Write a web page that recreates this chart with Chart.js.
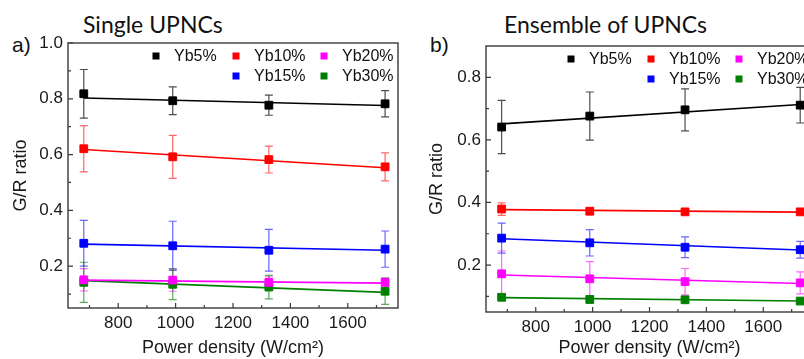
<!DOCTYPE html>
<html>
<head>
<meta charset="utf-8">
<script src="https://cdn.jsdelivr.net/npm/chart.js@4.4.0/dist/chart.umd.min.js"></script>
<style>
html,body{margin:0;padding:0;background:#fff;width:804px;height:359px;overflow:hidden;position:relative}
canvas{position:absolute;top:0}
#cSingle{left:0}
#cEns{left:420px}
.ttl{position:absolute;font-family:Lato,sans-serif;font-size:23px;line-height:1;color:#111;white-space:nowrap}
.lbl{position:absolute;font-family:"Liberation Sans",Arial,sans-serif;font-size:21px;line-height:1;color:#111}
</style>
</head>
<body>
<div class="lbl" style="left:12px;top:34px">a)</div>
<div class="ttl" style="left:83px;top:13px">Single UPNCs</div>
<div class="lbl" style="left:430px;top:34px">b)</div>
<div class="ttl" style="left:504px;top:13px">Ensemble of UPNCs</div>
<canvas id="cSingle" width="420" height="359"></canvas>
<canvas id="cEns" width="430" height="359"></canvas>
<script>
// power densities (W/cm2)
var power = [680, 990, 1325, 1730];
var fitX = [680, 1730];
var labels = ["Yb5%", "Yb10%", "Yb15%", "Yb20%", "Yb30%"];
var colors = ["#000000", "#ff0000", "#0000ff", "#ff00ff", "#008000"];
var barColors = ["rgba(0,0,0,0.7)", "rgba(255,0,0,0.6)", "rgba(0,0,255,0.6)", "rgba(255,0,255,0.6)", "rgba(0,128,0,0.65)"];

// a) single UPNCs
var single5 = [0.818, 0.793, 0.777, 0.782];
var single10 = [0.621, 0.592, 0.582, 0.556];
var single15 = [0.282, 0.273, 0.257, 0.261];
var single20 = [0.151, 0.150, 0.142, 0.142];
var single30 = [0.142, 0.135, 0.125, 0.110];
var singleErr5 = [0.087, 0.050, 0.036, 0.047];
var singleErr10 = [0.083, 0.077, 0.048, 0.050];
var singleErr15 = [0.082, 0.088, 0.075, 0.065];
var singleErr20 = [0.040, 0.040, 0.020, 0.015];
var singleErr30 = [0.072, 0.055, 0.042, 0.047];
var singleFit5 = [0.803, 0.776];
var singleFit10 = [0.618, 0.553];
var singleFit15 = [0.279, 0.257];
var singleFit20 = [0.150, 0.139];
var singleFit30 = [0.148, 0.106];

// b) ensemble of UPNCs
var ens5 = [0.641, 0.676, 0.696, 0.711];
var ens10 = [0.379, 0.372, 0.370, 0.370];
var ens15 = [0.286, 0.271, 0.257, 0.249];
var ens20 = [0.172, 0.156, 0.147, 0.143];
var ens30 = [0.097, 0.090, 0.089, 0.085];
var ensErr5 = [0.085, 0.077, 0.067, 0.057];
var ensErr10 = [0.020, 0.010, 0.006, 0.006];
var ensErr15 = [0.048, 0.042, 0.033, 0.027];
var ensErr20 = [0.073, 0.055, 0.042, 0.035];
var ensErr30 = [0.008, 0.006, 0.006, 0.006];
var ensFit5 = [0.651, 0.713];
var ensFit10 = [0.377, 0.369];
var ensFit15 = [0.284, 0.248];
var ensFit20 = [0.168, 0.141];
var ensFit30 = [0.096, 0.085];

// ticks
var xTicks = [800, 1000, 1200, 1400, 1600];
var xMinor = [700, 900, 1100, 1300, 1500, 1700];
var yTicksSingle = [0.2, 0.4, 0.6, 0.8, 1.0];
var yMinorSingle = [0.1, 0.3, 0.5, 0.7, 0.9];
var yTicksEns = [0.2, 0.4, 0.6, 0.8];
var yMinorEns = [0.1, 0.3, 0.5, 0.7];

// legend layout: [label index, column]
var legendRow1 = [[0, 0], [1, 1], [3, 2]];
var legendRow2 = [[2, 1], [4, 2]];

var frameColor = "#3a3a3a";
var tickFont = {family: "'Liberation Sans', Arial, sans-serif", size: 17};

function pts(vals) {
  return vals.map(function(v, i){ return {x: power[i], y: v}; });
}

function buildSets(series, errs, fits) {
  var sets = [];
  series.forEach(function(s, i){
    sets.push({
      label: labels[i], data: pts(s), err: errs[i], barColor: barColors[i],
      showLine: false, pointStyle: 'rect', pointRadius: 5.5,
      backgroundColor: colors[i], borderColor: colors[i], pointBorderWidth: 1
    });
  });
  fits.forEach(function(f, i){
    sets.push({
      label: labels[i] + ' fit',
      data: [{x: fitX[0], y: f[0]}, {x: fitX[1], y: f[1]}],
      showLine: true, pointRadius: 0, borderWidth: 1.6,
      borderColor: colors[i], backgroundColor: colors[i]
    });
  });
  return sets;
}

var decor = {
  id: 'decor',
  beforeDatasetsDraw: function(chart){
    var ctx = chart.ctx, xs = chart.scales.x, ys = chart.scales.y;
    ctx.save();
    ctx.lineWidth = 1.2;
    chart.data.datasets.forEach(function(ds){
      if (!ds.err) return;
      ctx.strokeStyle = ds.barColor;
      ds.data.forEach(function(p, j){
        var x = xs.getPixelForValue(p.x);
        var yt = ys.getPixelForValue(p.y + ds.err[j]);
        var yb = ys.getPixelForValue(p.y - ds.err[j]);
        ctx.beginPath();
        ctx.moveTo(x, yt); ctx.lineTo(x, yb);
        ctx.moveTo(x - 4, yt); ctx.lineTo(x + 4, yt);
        ctx.moveTo(x - 4, yb); ctx.lineTo(x + 4, yb);
        ctx.stroke();
      });
    });
    ctx.restore();
  },
  afterDraw: function(chart, args, opts){
    var ctx = chart.ctx, a = chart.chartArea, xs = chart.scales.x, ys = chart.scales.y;
    ctx.save();
    ctx.strokeStyle = frameColor;
    ctx.lineWidth = 1.4;
    ctx.strokeRect(a.left, a.top, a.right - a.left, a.bottom - a.top);
    ctx.lineWidth = 1.2;
    ctx.beginPath();
    xTicks.forEach(function(v){
      var x = xs.getPixelForValue(v);
      ctx.moveTo(x, a.bottom); ctx.lineTo(x, a.bottom - 5);
    });
    xMinor.forEach(function(v){
      var x = xs.getPixelForValue(v);
      ctx.moveTo(x, a.bottom); ctx.lineTo(x, a.bottom - 3);
    });
    opts.yTicks.forEach(function(v){
      var y = ys.getPixelForValue(v);
      ctx.moveTo(a.left, y); ctx.lineTo(a.left + 5, y);
    });
    opts.yMinor.forEach(function(v){
      var y = ys.getPixelForValue(v);
      ctx.moveTo(a.left, y); ctx.lineTo(a.left + 3, y);
    });
    ctx.stroke();

    // legend
    var colX = [a.right - 242, a.right - 162, a.right - 74];
    ctx.font = "16px 'Liberation Sans', Arial, sans-serif";
    ctx.textBaseline = 'middle';
    [[legendRow1, 13], [legendRow2, 33]].forEach(function(row){
      var y = a.top + row[1];
      row[0].forEach(function(item){
        var k = item[0], x = colX[item[1]];
        ctx.fillStyle = colors[k];
        ctx.fillRect(x - 3.5, y - 3.5, 7, 7);
        ctx.fillStyle = '#111';
        ctx.fillText(labels[k], x + 18, y + 1);
      });
    });
    ctx.restore();
  }
};

function makeChart(id, sets, ymin, ymax, yTicks, yMinor, box) {
  return new Chart(document.getElementById(id), {
    type: 'scatter',
    data: {datasets: sets},
    options: {
      responsive: false,
      animation: false,
      layout: {padding: {top: box.top, right: box.right, left: 0, bottom: 0}},
      plugins: {
        legend: {display: false},
        tooltip: {enabled: false},
        decor: {yTicks: yTicks, yMinor: yMinor}
      },
      scales: {
        x: {
          type: 'linear', min: 625, max: 1775,
          afterBuildTicks: function(s){ s.ticks = xTicks.map(function(v){ return {value: v}; }); },
          afterFit: function(s){ s.height = box.xh; },
          grid: {display: false, drawTicks: false},
          border: {display: false},
          ticks: {font: tickFont, color: '#1a1a1a', padding: 5, maxRotation: 0,
                  callback: function(v){ return String(v); }},
          title: {display: true, text: 'Power density (W/cm²)', color: '#1a1a1a',
                  font: {family: "'Liberation Sans', Arial, sans-serif", size: 18},
                  padding: {top: 0, bottom: 0}}
        },
        y: {
          type: 'linear', min: ymin, max: ymax,
          afterBuildTicks: function(s){ s.ticks = yTicks.map(function(v){ return {value: v}; }); },
          afterFit: function(s){ s.width = box.yw; },
          grid: {display: false, drawTicks: false},
          border: {display: false},
          ticks: {font: tickFont, color: '#1a1a1a', padding: 5,
                  callback: function(v){ return v.toFixed(1); }},
          title: {display: true, text: 'G/R ratio', color: '#1a1a1a',
                  font: {family: "'Liberation Sans', Arial, sans-serif", size: 18},
                  padding: {top: box.tp, bottom: 0}}
        }
      }
    },
    plugins: [decor]
  });
}

makeChart('cSingle',
  buildSets([single5, single10, single15, single20, single30],
            [singleErr5, singleErr10, singleErr15, singleErr20, singleErr30],
            [singleFit5, singleFit10, singleFit15, singleFit20, singleFit30]),
  0.05, 1.0, yTicksSingle, yMinorSingle,
  {top: 43, right: 22, xh: 51, yw: 68, tp: 10});

makeChart('cEns',
  buildSets([ens5, ens10, ens15, ens20, ens30],
            [ensErr5, ensErr10, ensErr15, ensErr20, ensErr30],
            [ensFit5, ensFit10, ensFit15, ensFit20, ensFit30]),
  0.05, 0.9, yTicksEns, yMinorEns,
  {top: 46, right: 37, xh: 47, yw: 66, tp: 6});
</script>
</body>
</html>
